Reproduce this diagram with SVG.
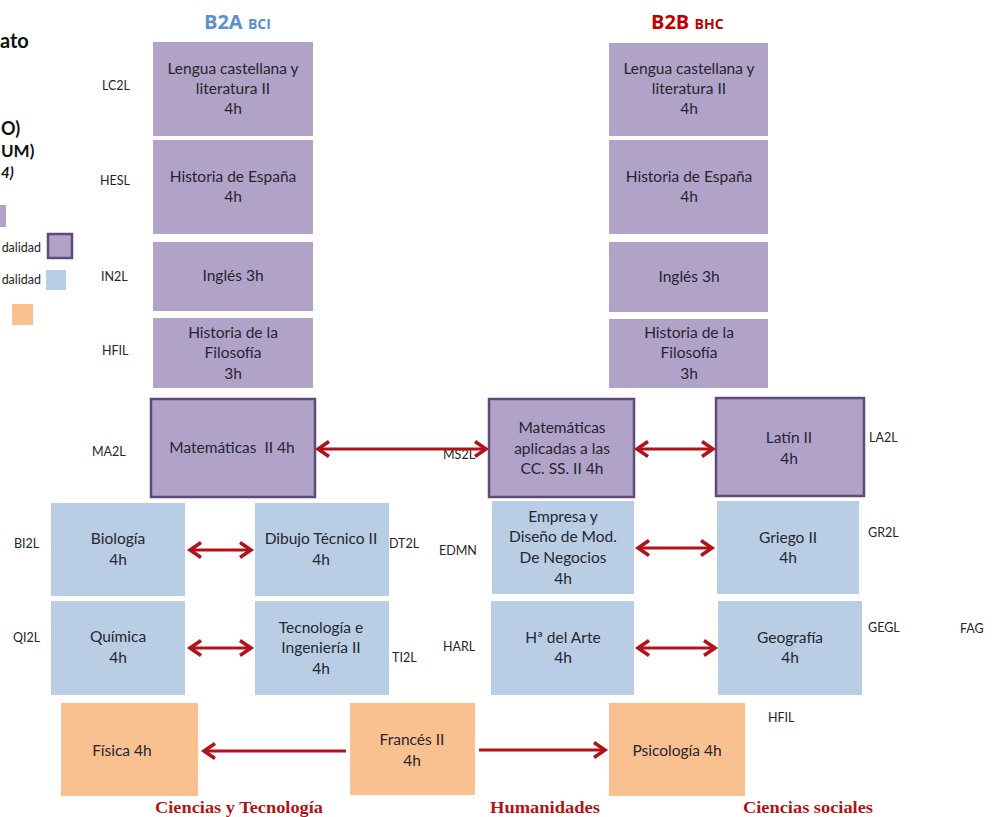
<svg xmlns="http://www.w3.org/2000/svg" width="995" height="817" viewBox="0 0 995 817">
<style>
  .bg{fill:#ffffff}
  .pu{fill:#b1a2c8}
  .puk{fill:#b1a2c8;stroke:#5f4a7b;stroke-width:2.5}
  .bl{fill:#b9cde4}
  .or{fill:#f9c090}
  .t{font-family:Lato,"Open Sans","Liberation Sans",sans-serif;font-size:15.5px;fill:#262630;text-anchor:middle}
  .c{font-family:Lato,"Open Sans","Liberation Sans",sans-serif;font-size:12.5px;fill:#262626}
  .hd{font-family:"Open Sans",Lato,"Liberation Sans",sans-serif;font-weight:bold}
  .lg{font-family:Lato,"Open Sans","Liberation Sans",sans-serif;font-weight:bold;fill:#111}
  .ft{font-family:"Liberation Serif",serif;font-weight:bold;font-size:16.5px;fill:#b01515}
  .ar{stroke:#b3121b;stroke-width:3;fill:none}
</style>
<defs>
  <marker id="chev" viewBox="-12 -10 14 20" refX="0" refY="0" markerWidth="14" markerHeight="20" markerUnits="userSpaceOnUse" orient="auto-start-reverse" overflow="visible">
    <path d="M-11,-7.5 L0,0 L-11,7.5" fill="none" stroke="#b3121b" stroke-width="3.5" stroke-linejoin="miter"/>
  </marker>
</defs>
<rect class="bg" x="0" y="0" width="995" height="817"/>

<!-- left cropped legend -->
<g id="legend">
  <text class="lg" x="0" y="48" font-size="20" font-family="'Liberation Serif',serif">ato</text>
  <text class="lg" x="1" y="135" font-size="18">O)</text>
  <text class="lg" x="1" y="157" font-size="17">UM)</text>
  <text class="lg" x="1" y="178" font-size="15" font-style="italic">4)</text>
  <rect class="pu" x="-2" y="205" width="8" height="22"/>
  <text class="c" x="41" y="252" text-anchor="end" font-size="13">dalidad</text>
  <rect class="puk" x="48" y="234" width="24" height="24" stroke-width="2"/>
  <text class="c" x="41" y="284" text-anchor="end" font-size="13">dalidad</text>
  <rect class="bl" x="46" y="270" width="20" height="20"/>
  <rect class="or" x="12" y="304" width="21" height="21"/>
</g>

<!-- headers -->
<g id="hdr-b2a">
  <text class="hd" x="204" y="29" font-size="20" fill="#5a8fd2">B2A <tspan font-size="14">BCI</tspan></text>
</g>
<g id="hdr-b2b">
  <text class="hd" x="651" y="29" font-size="20" fill="#c00000">B2B <tspan font-size="14">BHC</tspan></text>
</g>

<!-- B2A column -->
<g id="lc2l-a"><rect class="pu" x="153" y="42" width="160" height="94"/>
  <text class="t" x="233" y="74">Lengua castellana y</text><text class="t" x="233" y="94">literatura II</text><text class="t" x="233" y="114">4h</text></g>
<g id="hesl-a"><rect class="pu" x="153" y="140" width="160" height="94"/>
  <text class="t" x="233" y="182">Historia de España</text><text class="t" x="233" y="202">4h</text></g>
<g id="in2l-a"><rect class="pu" x="153" y="242" width="160" height="69"/>
  <text class="t" x="233" y="281">Inglés 3h</text></g>
<g id="hfil-a"><rect class="pu" x="153" y="318" width="160" height="70"/>
  <text class="t" x="233" y="338">Historia de la</text><text class="t" x="233" y="358">Filosofía</text><text class="t" x="233" y="379">3h</text></g>
<g id="ma2l"><rect class="puk" x="151" y="399" width="164" height="98"/>
  <text class="t" x="232" y="453" xml:space="preserve">Matemáticas  II 4h</text></g>
<g id="bi2l"><rect class="bl" x="51" y="503" width="134" height="93"/>
  <text class="t" x="118" y="544">Biología</text><text class="t" x="118" y="565">4h</text></g>
<g id="dt2l"><rect class="bl" x="255" y="503" width="134" height="93"/>
  <text class="t" x="321" y="544">Dibujo Técnico II</text><text class="t" x="321" y="565">4h</text></g>
<g id="qi2l"><rect class="bl" x="51" y="601" width="134" height="94"/>
  <text class="t" x="118" y="642">Química</text><text class="t" x="118" y="663">4h</text></g>
<g id="ti2l"><rect class="bl" x="255" y="601" width="134" height="94"/>
  <text class="t" x="321" y="633">Tecnología e</text><text class="t" x="321" y="653">Ingeniería II</text><text class="t" x="321" y="674">4h</text></g>
<g id="fisica"><rect class="or" x="61" y="703" width="137" height="93"/>
  <text class="t" x="122" y="756">Física 4h</text></g>
<g id="frances"><rect class="or" x="350" y="703" width="125" height="92"/>
  <text class="t" x="412" y="745">Francés II</text><text class="t" x="412" y="766">4h</text></g>
<g id="psicologia"><rect class="or" x="609" y="703" width="136" height="93"/>
  <text class="t" x="677" y="756">Psicología 4h</text></g>

<!-- B2B column -->
<g id="lc2l-b"><rect class="pu" x="609" y="43" width="159" height="93"/>
  <text class="t" x="689" y="74">Lengua castellana y</text><text class="t" x="689" y="94">literatura II</text><text class="t" x="689" y="114">4h</text></g>
<g id="hesl-b"><rect class="pu" x="609" y="140" width="159" height="94"/>
  <text class="t" x="689" y="182">Historia de España</text><text class="t" x="689" y="202">4h</text></g>
<g id="in2l-b"><rect class="pu" x="609" y="242" width="159" height="70"/>
  <text class="t" x="689" y="282">Inglés 3h</text></g>
<g id="hfil-b"><rect class="pu" x="609" y="319" width="159" height="69"/>
  <text class="t" x="689" y="338">Historia de la</text><text class="t" x="689" y="358">Filosofía</text><text class="t" x="689" y="379">3h</text></g>
<g id="ms2l"><rect class="puk" x="489" y="399" width="145" height="98"/>
  <text class="t" x="562" y="433">Matemáticas</text><text class="t" x="562" y="454">aplicadas a las</text><text class="t" x="562" y="474">CC. SS. II 4h</text></g>
<g id="la2l"><rect class="puk" x="716" y="398" width="148" height="98"/>
  <text class="t" x="789" y="443">Latín II</text><text class="t" x="789" y="464">4h</text></g>
<g id="edmn"><rect class="bl" x="492" y="501" width="142" height="93"/>
  <text class="t" x="563" y="522">Empresa y</text><text class="t" x="563" y="542">Diseño de Mod.</text><text class="t" x="563" y="563">De Negocios</text><text class="t" x="563" y="584">4h</text></g>
<g id="gr2l"><rect class="bl" x="717" y="501" width="142" height="93"/>
  <text class="t" x="788" y="543">Griego II</text><text class="t" x="788" y="563">4h</text></g>
<g id="harl"><rect class="bl" x="491" y="601" width="143" height="94"/>
  <text class="t" x="563" y="643">Hª del Arte</text><text class="t" x="563" y="663">4h</text></g>
<g id="gegl"><rect class="bl" x="718" y="601" width="144" height="94"/>
  <text class="t" x="790" y="643">Geografía</text><text class="t" x="790" y="663">4h</text></g>

<!-- code labels -->
<g id="codes">
  <text class="c" x="102" y="90">LC2L</text>
  <text class="c" x="100" y="185">HESL</text>
  <text class="c" x="101" y="281">IN2L</text>
  <text class="c" x="102" y="355">HFIL</text>
  <text class="c" x="92" y="456">MA2L</text>
  <text class="c" x="443" y="459">MS2L</text>
  <text class="c" x="869" y="442">LA2L</text>
  <text class="c" x="14" y="548">BI2L</text>
  <text class="c" x="389" y="548">DT2L</text>
  <text class="c" x="439" y="555">EDMN</text>
  <text class="c" x="868" y="537">GR2L</text>
  <text class="c" x="13" y="642">QI2L</text>
  <text class="c" x="392" y="662">TI2L</text>
  <text class="c" x="443" y="651">HARL</text>
  <text class="c" x="868" y="632">GEGL</text>
  <text class="c" x="960" y="633">FAG</text>
  <text class="c" x="768" y="722">HFIL</text>
</g>

<!-- connectors -->
<g id="connectors">
  <line class="ar" x1="318" y1="449" x2="486" y2="449" marker-start="url(#chev)" marker-end="url(#chev)"/>
  <line class="ar" x1="637" y1="449" x2="713" y2="449" marker-start="url(#chev)" marker-end="url(#chev)"/>
  <line class="ar" x1="190" y1="550" x2="251" y2="550" marker-start="url(#chev)" marker-end="url(#chev)"/>
  <line class="ar" x1="190" y1="648" x2="251" y2="648" marker-start="url(#chev)" marker-end="url(#chev)"/>
  <line class="ar" x1="638" y1="548" x2="712" y2="548" marker-start="url(#chev)" marker-end="url(#chev)"/>
  <line class="ar" x1="638" y1="648" x2="715" y2="648" marker-start="url(#chev)" marker-end="url(#chev)"/>
  <line class="ar" x1="346" y1="751" x2="204" y2="751" marker-end="url(#chev)"/>
  <line class="ar" x1="479" y1="750" x2="605" y2="750" marker-end="url(#chev)"/>
</g>

<!-- footer -->
<g id="footer">
  <text class="ft" x="155" y="813" textLength="168" lengthAdjust="spacingAndGlyphs">Ciencias y Tecnología</text>
  <text class="ft" x="490" y="813" textLength="110" lengthAdjust="spacingAndGlyphs">Humanidades</text>
  <text class="ft" x="743" y="813" textLength="130" lengthAdjust="spacingAndGlyphs">Ciencias sociales</text>
</g>
</svg>
